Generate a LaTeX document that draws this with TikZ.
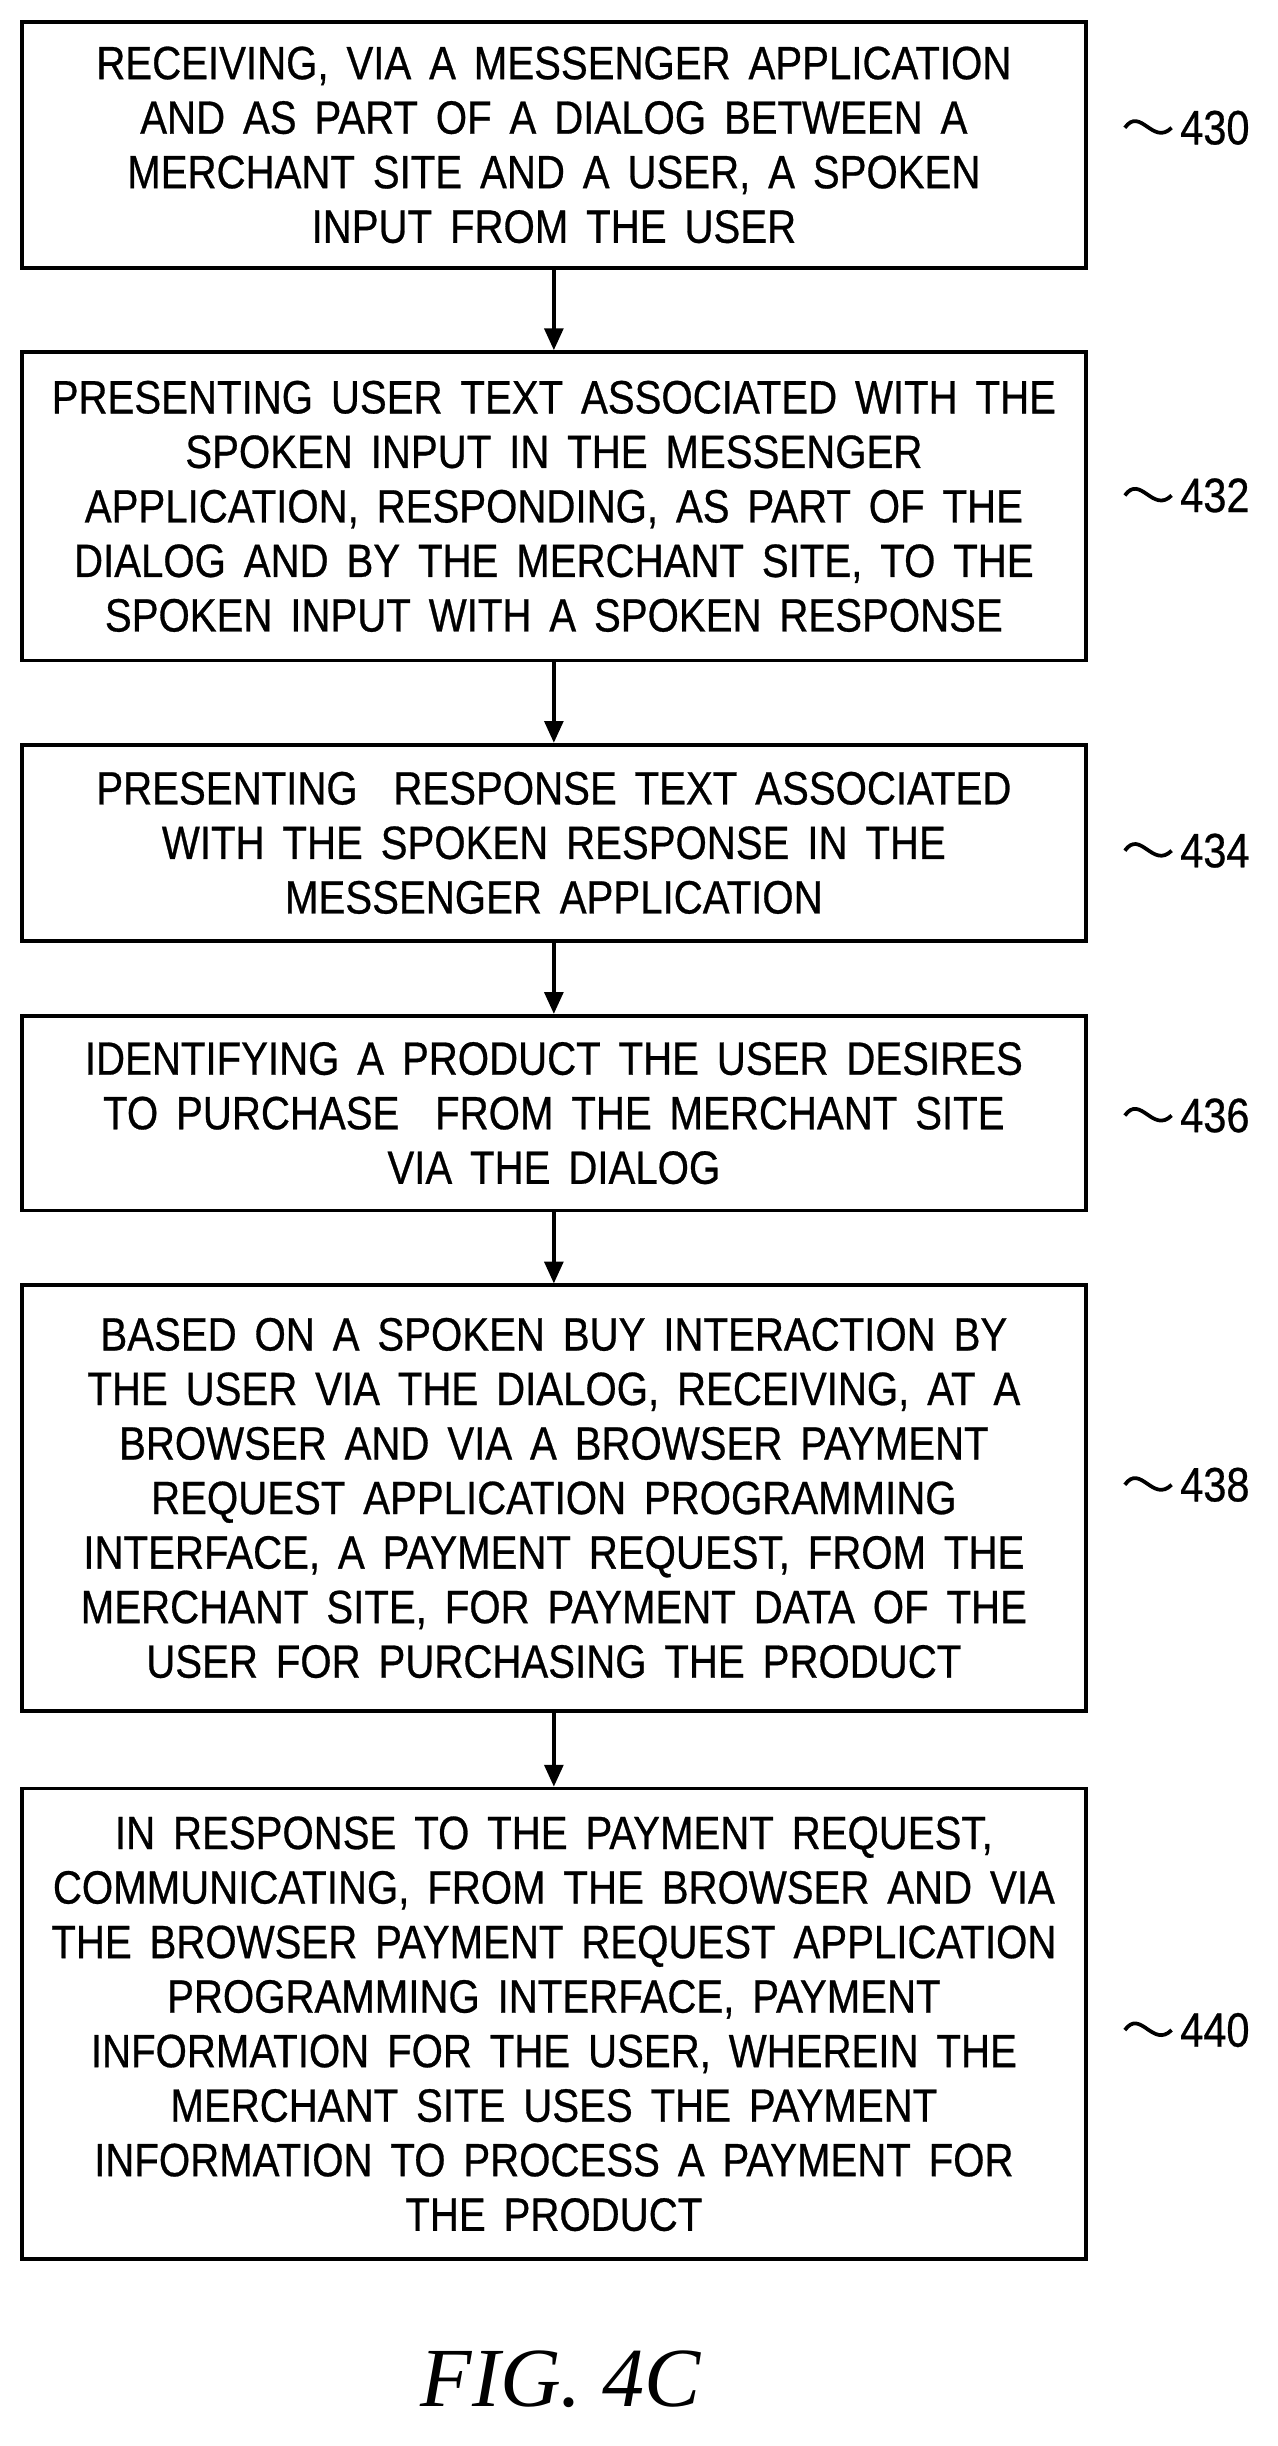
\documentclass[tikz,border=0pt]{standalone}
\usepackage{fontspec}
\setmainfont[FakeStretch=0.86,WordSpace=1.6,FakeBold=0.6]{Liberation Sans}
\newfontfamily\figfont{Liberation Serif}
\usetikzlibrary{arrows.meta,calc}
\begin{document}
\begin{tikzpicture}[x=1pt,y=-1pt,
  box/.style={draw,line width=2.4pt,minimum width=683pt,align=center,font=\fontsize{30}{35}\selectfont,inner sep=0pt},
  arr/.style={line width=2.4pt,-{Triangle[length=14pt,width=12pt]}},
  sq/.style={line width=2.4pt},
  lab/.style={font=\fontsize{31}{31}\selectfont,anchor=west}]
\useasboundingbox (0,0) rectangle (820,1570);
\node[box,minimum height=158pt] (b1) at (355.5,93) {RECEIVING, VIA A MESSENGER APPLICATION\\AND AS PART OF A DIALOG BETWEEN A\\MERCHANT SITE AND A USER, A SPOKEN\\INPUT FROM THE USER};
\node[box,minimum height=198pt] (b2) at (355.5,325) {PRESENTING USER TEXT ASSOCIATED WITH THE\\SPOKEN INPUT IN THE MESSENGER\\APPLICATION, RESPONDING, AS PART OF THE\\DIALOG AND BY THE MERCHANT SITE, TO THE\\SPOKEN INPUT WITH A SPOKEN RESPONSE};
\node[box,minimum height=126pt] (b3) at (355.5,541) {PRESENTING\ \ RESPONSE TEXT ASSOCIATED\\WITH THE SPOKEN RESPONSE IN THE\\MESSENGER APPLICATION};
\node[box,minimum height=125pt] (b4) at (355.5,714.5) {IDENTIFYING A PRODUCT THE USER DESIRES\\TO PURCHASE\ \ FROM THE MERCHANT SITE\\VIA THE DIALOG};
\node[box,minimum height=273pt] (b5) at (355.5,961.5) {BASED ON A SPOKEN BUY INTERACTION BY\\THE USER VIA THE DIALOG, RECEIVING, AT A\\BROWSER AND VIA A BROWSER PAYMENT\\REQUEST APPLICATION PROGRAMMING\\INTERFACE, A PAYMENT REQUEST, FROM THE\\MERCHANT SITE, FOR PAYMENT DATA OF THE\\USER FOR PURCHASING THE PRODUCT};
\node[box,minimum height=302pt] (b6) at (355.5,1299) {IN RESPONSE TO THE PAYMENT REQUEST,\\COMMUNICATING, FROM THE BROWSER AND VIA\\THE BROWSER PAYMENT REQUEST APPLICATION\\PROGRAMMING INTERFACE, PAYMENT\\INFORMATION FOR THE USER, WHEREIN THE\\MERCHANT SITE USES THE PAYMENT\\INFORMATION TO PROCESS A PAYMENT FOR\\THE PRODUCT};
\draw[arr] (b1) -- (b2);
\draw[arr] (b2) -- (b3);
\draw[arr] (b3) -- (b4);
\draw[arr] (b4) -- (b5);
\draw[arr] (b5) -- (b6);
\foreach \n/\y/\t in {a/82/430,b/318/432,c/546/434,d/716/436,e/953/438,f/1303/440}{
  \coordinate (s\n) at (722,\y);
  \coordinate (e\n) at (752,\y);
  \draw[sq] (s\n) .. controls ($(s\n)+(10,-14)$) and ($(s\n)+(18,12)$) .. (e\n);
  \node[lab] (l\n) at (754,\y) {\t};
}
\node[font=\figfont\itshape\fontsize{54}{54}\selectfont] (fig) at (360,1527) {FIG.\ 4C};
\end{tikzpicture}
\end{document}
